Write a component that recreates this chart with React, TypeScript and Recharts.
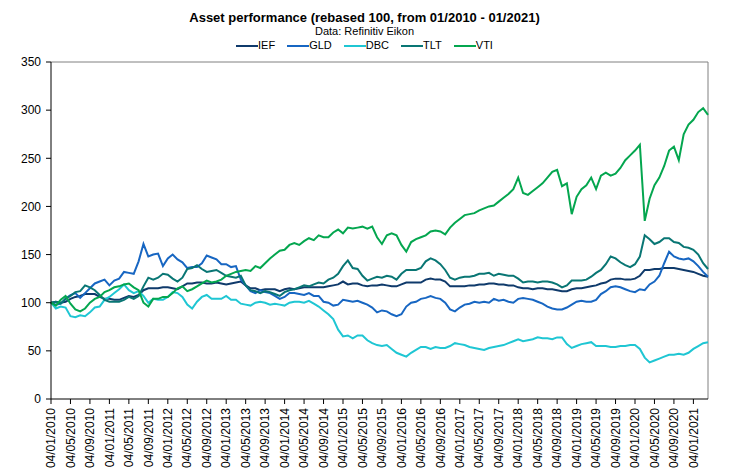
import React from 'react';
import { LineChart, Line, XAxis, YAxis, ReferenceLine } from 'recharts';

// monthly readings, Jan 2010 .. Mar 2021 (rebased to 100)
const ief = [
  100, 101, 100, 101, 104, 106, 107, 109, 109, 109, 106, 104,
  104, 103, 103, 105, 107, 106, 108, 113, 115, 115, 115, 116,
  116, 115, 114, 117, 120, 120, 121, 121, 120, 120, 121, 120,
  119, 120, 121, 122, 118, 115, 115, 113, 114, 114, 114, 112,
  114, 115, 114, 115, 116, 116, 116, 116, 116, 117, 118, 119,
  122, 119, 120, 120, 118, 117, 118, 118, 119, 118, 117, 117,
  119, 121, 121, 121, 121, 124, 125, 124, 124, 122, 117, 117,
  117, 117, 118, 118, 119, 119, 120, 120, 119, 119, 118, 118,
  116, 115, 115, 114, 115, 115, 114, 114, 113, 112, 112, 114,
  115, 115, 116, 117, 118, 120, 121, 124, 125, 125, 124, 124,
  125, 128, 134, 134, 135, 135, 136, 136, 136, 135, 134, 133,
  132, 130, 128, 127,
];

const gld = [
  100, 98, 99, 104, 108, 110, 105, 110, 115, 120, 122, 124,
  118, 123, 125, 132, 131, 130, 143, 161, 148, 150, 151, 138,
  146, 150, 145, 142, 136, 137, 137, 141, 149, 147, 145, 140,
  140, 137, 138, 124, 118, 112, 110, 113, 111, 110, 107, 104,
  106, 110, 110, 109, 108, 110, 107, 107, 101, 100, 97, 98,
  103, 102, 101, 102, 100, 98, 95, 90, 92, 91, 88, 86,
  88, 96, 100, 101, 104, 105, 107, 105, 104, 100, 93, 91,
  95, 98, 99, 101, 100, 101, 100, 104, 102, 103, 101, 100,
  104, 105, 104, 103, 101, 99, 96, 94, 93, 93, 95, 98,
  101, 102, 101, 101, 103, 109, 112, 116, 117, 116, 114, 112,
  111, 114, 113, 119, 122, 128, 141, 153, 148, 146, 145, 146,
  143, 138, 132, 127,
];

const dbc = [
  100, 94, 96, 95, 86, 85, 87, 86, 90, 95, 96, 103,
  106, 110, 114, 119, 113, 110, 112, 107, 100, 104, 103, 103,
  106, 111, 110, 106, 98, 94, 101, 106, 108, 104, 104, 104,
  107, 103, 103, 99, 98, 97, 100, 101, 100, 98, 99, 98,
  97, 100, 101, 101, 100, 102, 99, 96, 92, 88, 83, 72,
  65, 66, 63, 66, 66, 61, 58, 56, 55, 56, 52, 48,
  46, 44, 48, 51, 54, 54, 52, 54, 53, 53, 55, 58,
  57, 56, 54, 53, 52, 51, 53, 54, 55, 56, 58, 60,
  62, 60, 61, 62, 64, 63, 63, 62, 64, 64, 57, 53,
  55, 57, 58, 59, 55, 55, 55, 54, 54, 55, 55, 56,
  56, 52, 43, 38, 40, 42, 44, 46, 46, 47, 46, 48,
  52, 55, 58, 59,
];

const tlt = [
  100, 101, 99, 104, 107, 111, 112, 118, 116, 113, 108, 103,
  101, 101, 101, 103, 106, 104, 107, 117, 126, 124, 126, 130,
  129, 125, 122, 126, 135, 136, 139, 135, 132, 133, 134, 131,
  128, 127, 126, 128, 118, 113, 112, 110, 112, 111, 109, 107,
  111, 113, 114, 116, 118, 117, 119, 121, 120, 124, 126, 130,
  138, 144, 136, 135, 128, 123, 125, 127, 126, 128, 127, 124,
  130, 134, 134, 134, 136, 143, 146, 144, 140, 134, 126, 124,
  126, 127, 127, 128, 130, 130, 131, 128, 130, 129, 128, 128,
  125, 121, 122, 122, 121, 122, 122, 121, 119, 116, 118, 123,
  123, 123, 124, 127, 131, 134, 140, 148, 146, 142, 139, 137,
  140, 148, 170, 166, 161, 163, 167, 167, 163, 162, 158, 157,
  155, 150, 141, 135,
];

const vti = [
  100, 97, 103, 107, 99, 93, 91, 94, 100, 104, 106, 111,
  113, 116, 117, 119, 120, 116, 113, 100, 96, 104, 104, 106,
  106, 110, 115, 117, 112, 114, 117, 120, 123, 121, 122, 124,
  128, 130, 132, 133, 134, 133, 138, 136, 141, 146, 150, 154,
  155, 160, 162, 160, 164, 167, 165, 170, 168, 168, 173, 176,
  172, 178, 177, 178, 179, 177, 179, 168, 161, 170, 172, 170,
  160, 153, 163, 166, 168, 170, 174, 175, 174, 171, 178, 183,
  187, 191, 192, 193, 196, 198, 200, 201, 205, 209, 213, 218,
  230, 214, 212, 216, 220, 224, 230, 236, 238, 221, 224, 192,
  210, 218, 222, 230, 218, 232, 235, 232, 234, 240, 248, 253,
  258, 264, 185, 208, 222, 230, 242, 258, 262, 248, 275, 285,
  290, 298, 302, 295,
];

const xTickLabels = [
  '04/01/2010', '04/05/2010', '04/09/2010', '04/01/2011', '04/05/2011', '04/09/2011',
  '04/01/2012', '04/05/2012', '04/09/2012', '04/01/2013', '04/05/2013', '04/09/2013',
  '04/01/2014', '04/05/2014', '04/09/2014', '04/01/2015', '04/05/2015', '04/09/2015',
  '04/01/2016', '04/05/2016', '04/09/2016', '04/01/2017', '04/05/2017', '04/09/2017',
  '04/01/2018', '04/05/2018', '04/09/2018', '04/01/2019', '04/05/2019', '04/09/2019',
  '04/01/2020', '04/05/2020', '04/09/2020', '04/01/2021',
];
const yTicks = [0, 50, 100, 150, 200, 250, 300, 350];

const series = [
  { key: 'IEF', color: '#0f3a6b' },
  { key: 'GLD', color: '#1766c2' },
  { key: 'DBC', color: '#1fc6d3' },
  { key: 'TLT', color: '#097674' },
  { key: 'VTI', color: '#04a64f' },
];

const data = vti.map((_, i) => ({
  m: i,
  IEF: ief[i],
  GLD: gld[i],
  DBC: dbc[i],
  TLT: tlt[i],
  VTI: vti[i],
}));

const xTicks = xTickLabels.map((_, i) => i * 4);
const FONT = '"Liberation Sans", Arial, sans-serif';

const DateTick = ({ x, y, payload }: any) => (
  <text
    x={x}
    y={y}
    transform={`rotate(-90, ${x}, ${y})`}
    textAnchor="end"
    dy="0.35em"
    fontSize={12}
    fill="#000"
    fontFamily={FONT}
  >
    {xTickLabels[payload.value / 4]}
  </text>
);

export default function App() {
  return (
    <div style={{ position: 'absolute', left: 0, top: 0, width: 729, height: 475, background: '#fff', fontFamily: FONT }}>
      <div style={{ position: 'absolute', top: 11, left: 0, width: 729, textAlign: 'center', fontSize: 13, lineHeight: '13px', fontWeight: 'bold' }}>
        Asset performance (rebased 100, from 01/2010 - 01/2021)
      </div>
      <div style={{ position: 'absolute', top: 26, left: 0, width: 729, textAlign: 'center', fontSize: 11, lineHeight: '11px' }}>
        Data: Refinitiv Eikon
      </div>
      <div style={{ position: 'absolute', top: 40, left: 0, width: 729, display: 'flex', justifyContent: 'center', gap: 12, fontSize: 11, lineHeight: '11px' }}>
        {series.map((s) => (
          <div key={s.key} style={{ display: 'flex', alignItems: 'center' }}>
            <span style={{ display: 'inline-block', width: 22, height: 2, background: s.color }} />
            <span>{s.key}</span>
          </div>
        ))}
      </div>
      <LineChart width={729} height={475} data={data} margin={{ top: 62, right: 21, left: 0, bottom: 0 }}>
        <XAxis
          dataKey="m"
          type="number"
          domain={[0, 135]}
          ticks={xTicks}
          interval={0}
          height={76}
          stroke="#000"
          tickSize={5}
          tickMargin={4}
          tick={<DateTick />}
        />
        <YAxis
          domain={[0, 350]}
          ticks={yTicks}
          interval={0}
          width={51}
          stroke="#000"
          tickSize={5}
          tickMargin={5}
          tick={{ fill: '#000', fontSize: 12, fontFamily: FONT }}
        />
        <ReferenceLine y={350} stroke="#808080" strokeWidth={1} />
        <ReferenceLine x={135} stroke="#808080" strokeWidth={1} />
        {series.map((s) => (
          <Line
            key={s.key}
            type="linear"
            dataKey={s.key}
            stroke={s.color}
            strokeWidth={2}
            dot={false}
            isAnimationActive={false}
          />
        ))}
      </LineChart>
    </div>
  );
}
